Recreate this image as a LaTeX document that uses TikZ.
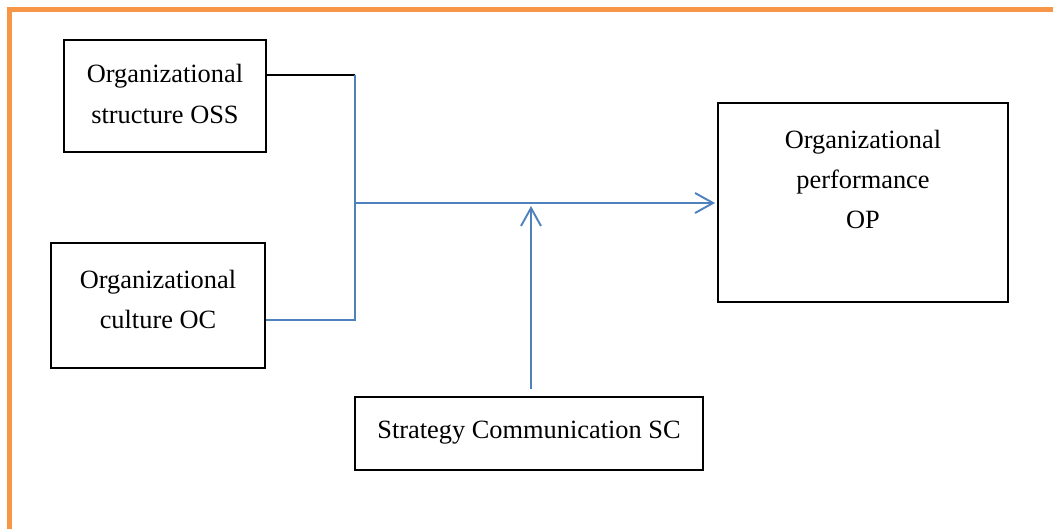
\documentclass[tikz,border=0pt]{standalone}
\usepackage{fontspec}
\setmainfont{Liberation Serif}
\usepackage{xcolor}
\usepackage{tikz}
\usetikzlibrary{arrows.meta, calc}
\definecolor{frameorange}{HTML}{F79646}
\definecolor{linkblue}{HTML}{4F81BD}
\tikzset{
    frame/.style={draw=frameorange, line width=1.45pt},
    box/.style={draw=black, line width=0.5pt, inner sep=0pt},
    txt/.style={align=center, inner sep=0pt, font=\fontsize{7.5}{11.4}\selectfont},
    link/.style={draw=linkblue, line width=0.55pt},
    tip/.style={-{Straight Barb[length=0.18cm, width=0.2cm, line width=0.55pt]}}
}

\begin{document}
\begin{tikzpicture}[x=0.01cm, y=-0.01cm]
    \useasboundingbox (0,0) rectangle (1053,529);
    \draw[frame] (9.5,529) -- (9.5,9.5) -- (1053,9.5);

    % the four blocks
    \node[box, minimum width=2.02cm, minimum height=1.12cm] (oss) at (165,96) {};
    \node[txt] (osstext) at ($(oss.center)+(0,-2)$) {Organizational\\structure OSS};
    \node[box, minimum width=2.14cm, minimum height=1.25cm] (oc) at (158,305.5) {};
    \node[txt] (octext) at ($(oc.center)+(0,-6)$) {Organizational\\culture OC};
    \node[box, minimum width=2.90cm, minimum height=1.99cm] (op) at (863,202.5) {};
    \node[txt, anchor=north] (optext) at (863,129) {Organizational\\performance\\OP};
    \node[box, minimum width=3.48cm, minimum height=0.73cm] (sc) at (529,433.5) {};
    \node[txt] (sctext) at ($(sc.center)+(0,-1)$) {Strategy Communication SC};

    % joints of the connectors
    \coordinate (jtop) at (355,75);
    \coordinate (jbot) at (355,320);
    \coordinate (jmid) at (355,203);
    \coordinate (hit) at (531,206);

    \draw[line width=0.55pt] (oss.east |- jtop) -- (jtop);
    \draw[link] (jtop) -- (jbot) -- (oc.east |- jbot);
    \draw[link, tip, shorten >=0.02cm] (jmid) -- (op.west |- jmid);
    \draw[link, tip] ([yshift=0.07cm]sc.north -| hit) -- (hit);
\end{tikzpicture}
\end{document}
